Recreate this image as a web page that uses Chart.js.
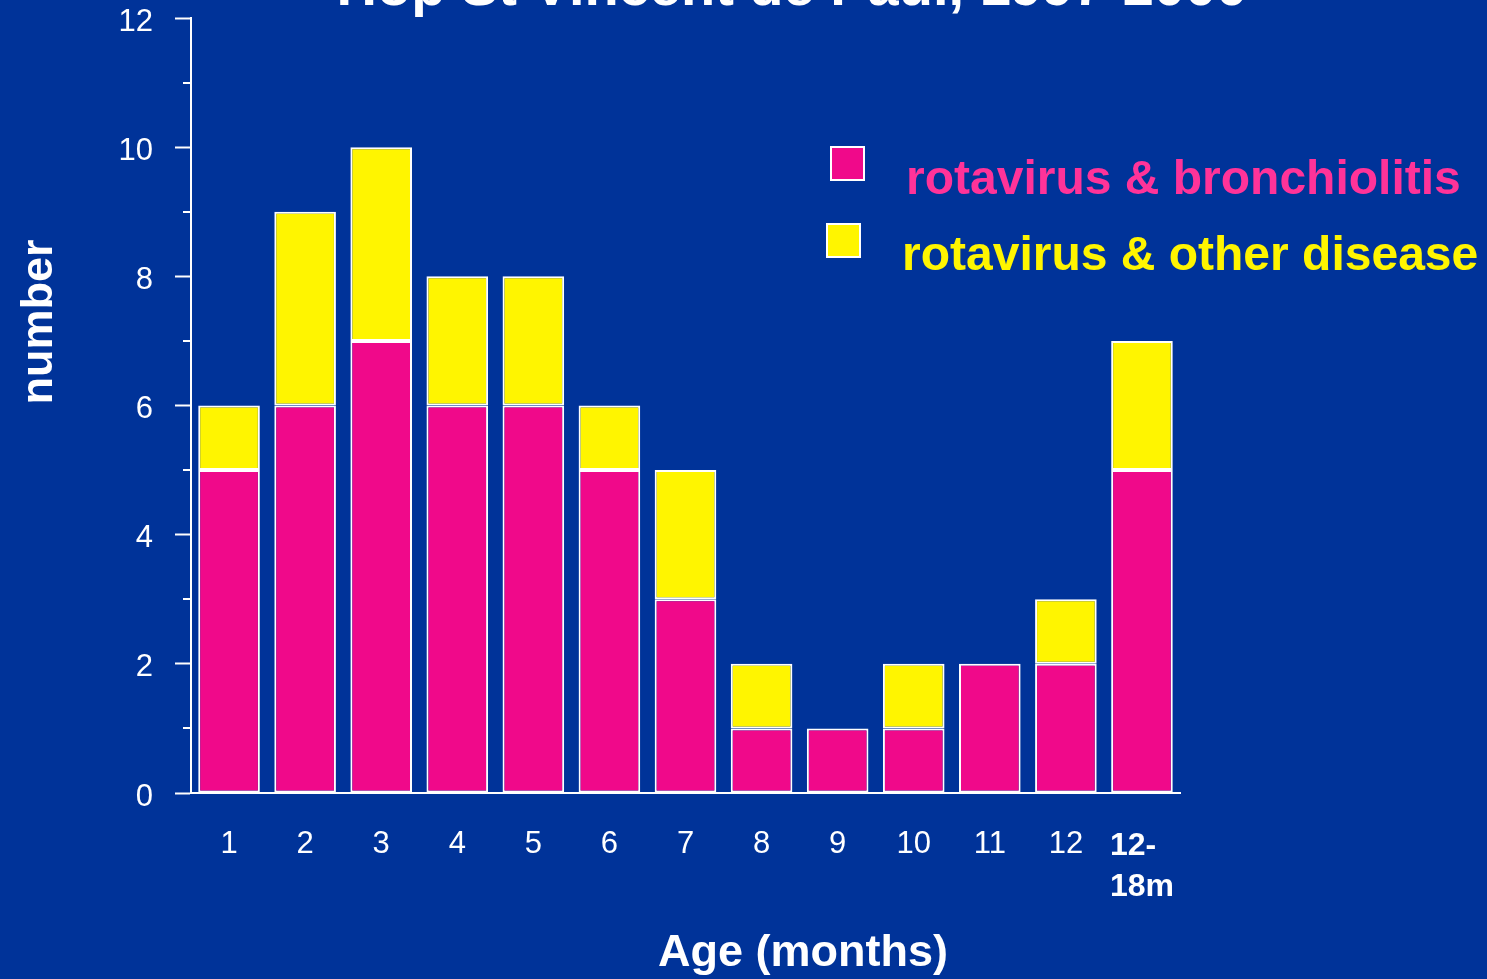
<!DOCTYPE html>
<html>
<head>
<meta charset="utf-8">
<script src="https://cdn.jsdelivr.net/npm/chart.js@4/dist/chart.umd.min.js"></script>
<style>
  html, body { margin: 0; padding: 0; background: #003399; overflow: hidden; }
  canvas { display: block; }
</style>
</head>
<body>
<canvas id="ageChart" width="1487" height="979"></canvas>
<script>
const ageLabels = ["1", "2", "3", "4", "5", "6", "7", "8", "9", "10", "11", "12", ["12-  ", "18m"]];
const bronchiolitis = [5, 6, 7, 6, 6, 5, 3, 1, 1, 1, 2, 2, 5];
const otherDisease = [1, 3, 3, 2, 2, 1, 2, 1, 0, 1, 0, 1, 2];
const seriesNames = ["rotavirus & bronchiolitis", "rotavirus & other disease"];
const chartTitle = "Hop St Vincent de Paul, 1997-2000";

const BG = "#003399";
const PINK = "#f0098a";
const YELLOW = "#fff500";
const FONT = "'Liberation Sans', Arial, sans-serif";

// background, minor ticks, titles and legend
const decor = {
  id: "decor",
  beforeDraw(chart) {
    const ctx = chart.ctx;
    ctx.save();
    ctx.fillStyle = BG;
    ctx.fillRect(0, 0, chart.width, chart.height);
    ctx.restore();
  },
  afterDraw(chart) {
    const ctx = chart.ctx;
    const y = chart.scales.y;
    ctx.save();

    // minor ticks on odd values
    ctx.strokeStyle = "#ffffff";
    ctx.lineWidth = 2;
    for (let v = 1; v < 12; v += 2) {
      const py = Math.round(y.getPixelForValue(v));
      ctx.beginPath();
      ctx.moveTo(y.right - 8, py);
      ctx.lineTo(y.right, py);
      ctx.stroke();
    }

    // title (cut off at top, like the slide)
    ctx.fillStyle = "#ffffff";
    ctx.font = "bold 56px " + FONT;
    ctx.textAlign = "center";
    ctx.textBaseline = "alphabetic";
    ctx.fillText(chartTitle, 792, 5);

    // axis titles
    ctx.font = "bold 45px " + FONT;
    ctx.fillText("Age (months)", 803, 966);
    ctx.save();
    ctx.translate(52, 322);
    ctx.rotate(-Math.PI / 2);
    ctx.fillText("number", 0, 0);
    ctx.restore();

    // legend
    ctx.textAlign = "left";
    ctx.font = "bold 48px " + FONT;
    const items = [
      { box: [831, 147], text: [906, 194], fill: PINK, color: "#ff3399" },
      { box: [827, 224], text: [902, 270], fill: YELLOW, color: YELLOW }
    ];
    items.forEach((it, i) => {
      ctx.fillStyle = it.fill;
      ctx.fillRect(it.box[0], it.box[1], 33, 33);
      ctx.strokeStyle = "#ffffff";
      ctx.lineWidth = 2;
      ctx.strokeRect(it.box[0], it.box[1], 33, 33);
      ctx.fillStyle = it.color;
      ctx.fillText(seriesNames[i], it.text[0], it.text[1]);
    });
    ctx.restore();
  }
};

new Chart(document.getElementById("ageChart"), {
  type: "bar",
  data: {
    labels: ageLabels,
    datasets: [
      {
        label: seriesNames[0],
        data: bronchiolitis,
        backgroundColor: PINK,
        borderColor: "#ffffff",
        borderWidth: 2,
        borderSkipped: false
      },
      {
        label: seriesNames[1],
        data: otherDisease,
        backgroundColor: YELLOW,
        borderColor: "#ffffff",
        borderWidth: 2,
        borderSkipped: false
      }
    ]
  },
  options: {
    responsive: false,
    animation: false,
    layout: { padding: { left: 0, top: 18, right: 307, bottom: 0 } },
    datasets: { bar: { categoryPercentage: 1, barPercentage: 0.81 } },
    plugins: {
      legend: { display: false },
      title: { display: false },
      tooltip: { enabled: false }
    },
    scales: {
      x: {
        stacked: true,
        grid: { display: false },
        border: { display: true, color: "#ffffff", width: 2 },
        ticks: {
          color: "#ffffff",
          padding: 25,
          maxRotation: 0,
          autoSkip: false,
          font: (c) => c.index === 12
            ? { family: FONT, size: 32, weight: "bold", lineHeight: 1.28 }
            : { family: FONT, size: 31, lineHeight: 1.2 }
        },
        afterFit: (scale) => {
          scale.height = 186;
          scale.paddingLeft = 0;
          scale.paddingRight = 0;
        }
      },
      y: {
        stacked: true,
        min: 0,
        max: 12,
        grid: {
          drawOnChartArea: false,
          tickLength: 16,
          tickWidth: 2,
          tickColor: (c) => (c.tick && c.tick.value % 2 === 0 ? "#ffffff" : "rgba(0,0,0,0)")
        },
        border: { display: true, color: "#ffffff", width: 2 },
        ticks: {
          stepSize: 1,
          color: "#ffffff",
          padding: 22,
          labelOffset: 4,
          font: { family: FONT, size: 31 },
          callback: (v) => (v % 2 === 0 ? v : "")
        },
        afterFit: (scale) => {
          scale.width = 191;
          scale.paddingTop = 0;
          scale.paddingBottom = 0;
        }
      }
    }
  },
  plugins: [decor]
});
</script>
</body>
</html>
